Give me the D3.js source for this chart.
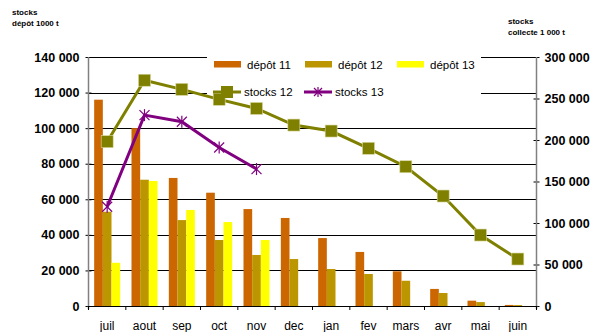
<!DOCTYPE html>
<html>
<head>
<meta charset="utf-8">
<script src="https://cdn.jsdelivr.net/npm/d3@7/dist/d3.min.js"></script>
<style>
  html, body { margin: 0; padding: 0; background: #fff; }
  svg { display: block; font-family: "Liberation Sans", Arial, sans-serif; }
</style>
</head>
<body>
<svg id="chart" width="596" height="332"></svg>
<script>
// Monthly categories (campaign July to June)
const months = ["juil", "aout", "sep", "oct", "nov", "dec", "jan", "fev", "mars", "avr", "mai", "juin"];

// Deposit stocks, 1000 t (left axis)
const depot11 = [116000, 100000, 72000, 63700, 54500, 49500, 38200, 30400, 19500, 9600, 3000, 600];
const depot12 = [53000, 71000, 48300, 37100, 28700, 26400, 20800, 18000, 14200, 7300, 2200, 500];
const depot13 = [24300, 70300, 54000, 47200, 37100, null, null, null, null, null, null, null];

// Collection stocks, 1 000 t (right axis)
const stocks12 = [198000, 272000, 261000, 249000, 238000, 218000, 210800, 190000, 167800, 132500, 85500, 56600];
const stocks13 = [119600, 230000, 222000, 191000, 165000, null, null, null, null, null, null, null];

const leftTicks = [0, 20000, 40000, 60000, 80000, 100000, 120000, 140000];
const rightTicks = [0, 50000, 100000, 150000, 200000, 250000, 300000];

const colors = {
  d11: "#CC6600",
  d12: "#BB9600",
  d13: "#FFFF00",
  s12: "#808000",
  s13: "#800080"
};

const svg = d3.select("#chart");
const plotL = 88.5, plotR = 536.5, plotT = 57, plotB = 306;

const x = d3.scaleBand().domain(months).range([plotL, plotR]).padding(0);
const yL = d3.scaleLinear().domain([0, 140000]).range([plotB, plotT]);
const yR = d3.scaleLinear().domain([0, 300000]).range([plotB, plotT]);
const fmt = v => d3.format(",")(v).replace(/,/g, " ");

// Horizontal gridlines at the left-axis ticks
svg.append("g").selectAll("line").data(leftTicks.filter(d => d > 0)).join("line")
  .attr("x1", plotL).attr("x2", plotR)
  .attr("y1", d => Math.round(yL(d)) + 0.5).attr("y2", d => Math.round(yL(d)) + 0.5)
  .attr("stroke", "#000").attr("stroke-width", 1);

// Legend background covers the gridlines
const legendBox = { x: 207, y: 50, w: 274, h: 52 };
svg.append("rect").attr("x", legendBox.x).attr("y", legendBox.y)
  .attr("width", legendBox.w).attr("height", legendBox.h).attr("fill", "#fff");

// Grouped bars
const barSeries = [
  { key: "d11", values: depot11 },
  { key: "d12", values: depot12 },
  { key: "d13", values: depot13 }
];
const groupW = 26;
const xs = d3.scaleBand().domain(barSeries.map(s => s.key)).range([0, groupW]).padding(0);
const bars = svg.append("g");
barSeries.forEach(s => {
  bars.append("g").selectAll("rect")
    .data(months.map((m, i) => ({ m, v: s.values[i] })).filter(d => d.v != null))
    .join("rect")
    .attr("x", d => x(d.m) + (x.bandwidth() - groupW) / 2 + xs(s.key))
    .attr("width", xs.bandwidth())
    .attr("y", d => yL(d.v))
    .attr("height", d => plotB - yL(d.v))
    .attr("fill", colors[s.key]);
});

// Axes
const axL = d3.axisLeft(yL).tickValues(leftTicks).tickSize(0).tickPadding(9).tickFormat(fmt);
const axR = d3.axisRight(yR).tickValues(rightTicks).tickSize(0).tickPadding(8).tickFormat(fmt);
const gL = svg.append("g").attr("transform", `translate(${plotL},0)`).call(axL);
const gR = svg.append("g").attr("transform", `translate(${plotR},0)`).call(axR);
[gL, gR].forEach(g => {
  g.select(".domain").remove();
  g.selectAll("text").attr("font-size", 12.5).attr("font-weight", "bold").attr("fill", "#000")
    .attr("font-family", "'Liberation Sans', Arial, sans-serif");
});
// Cross ticks
gL.selectAll(".tick").append("line").attr("x1", -3).attr("x2", 3).attr("stroke", "#000");
gR.selectAll(".tick").append("line").attr("x1", -3).attr("x2", 3).attr("stroke", "#000");
svg.append("line").attr("x1", plotL).attr("x2", plotL).attr("y1", plotT).attr("y2", plotB + 3)
  .attr("stroke", "#808080").attr("stroke-width", 1.5);
svg.append("line").attr("x1", plotR).attr("x2", plotR).attr("y1", plotT).attr("y2", plotB + 3)
  .attr("stroke", "#808080").attr("stroke-width", 1.5);

// Category axis
const axB = d3.axisBottom(x).tickSize(0).tickPadding(15);
const gB = svg.append("g").attr("transform", `translate(0,${plotB})`).call(axB);
gB.select(".domain").attr("stroke", "#000");
gB.selectAll("text").attr("font-size", 12).attr("fill", "#000")
  .attr("font-family", "'Liberation Sans', Arial, sans-serif");
svg.append("g").selectAll("line").data(months.concat(["__end"])).join("line")
  .attr("x1", (d, i) => plotL + i * x.bandwidth()).attr("x2", (d, i) => plotL + i * x.bandwidth())
  .attr("y1", plotB).attr("y2", plotB + 4).attr("stroke", "#000");

// Lines on the right axis
const cx = m => x(m) + x.bandwidth() / 2;
const line = d3.line().defined(d => d.v != null).x(d => cx(d.m)).y(d => yR(d.v));
const s12 = months.map((m, i) => ({ m, v: stocks12[i] }));
const s13 = months.map((m, i) => ({ m, v: stocks13[i] })).filter(d => d.v != null);

svg.append("path").datum(s12).attr("d", line).attr("fill", "none")
  .attr("stroke", colors.s12).attr("stroke-width", 3);
svg.append("g").selectAll("rect").data(s12).join("rect")
  .attr("x", d => cx(d.m) - 6).attr("y", d => yR(d.v) - 6)
  .attr("width", 12).attr("height", 12).attr("fill", colors.s12)
  .attr("stroke", "#d8d8a0").attr("stroke-width", 0.6);

svg.append("path").datum(s13).attr("d", line).attr("fill", "none")
  .attr("stroke", colors.s13).attr("stroke-width", 3);
const star = (g, r) => {
  g.append("line").attr("x1", -r).attr("y1", -r).attr("x2", r).attr("y2", r);
  g.append("line").attr("x1", -r).attr("y1", r).attr("x2", r).attr("y2", -r);
  g.append("line").attr("x1", 0).attr("y1", -r - 1).attr("x2", 0).attr("y2", r + 1);
};
svg.append("g").selectAll("g").data(s13).join("g")
  .attr("transform", d => `translate(${cx(d.m)},${yR(d.v)})`)
  .attr("stroke", colors.s13).attr("stroke-width", 1.2)
  .each(function () { star(d3.select(this), 5); });

// Legend
const lg = svg.append("g").attr("font-size", 11.5).attr("fill", "#000");
const legendBars = [
  { label: "dépôt 11", c: colors.d11, x: 214 },
  { label: "dépôt 12", c: colors.d12, x: 305 },
  { label: "dépôt 13", c: colors.d13, x: 397 }
];
legendBars.forEach(l => {
  lg.append("rect").attr("x", l.x).attr("y", 61).attr("width", 27).attr("height", 6.5).attr("fill", l.c);
  lg.append("text").attr("x", l.x + 33).attr("y", 69).text(l.label);
});
// stocks 12 sample
lg.append("line").attr("x1", 213).attr("x2", 241).attr("y1", 92).attr("y2", 92)
  .attr("stroke", colors.s12).attr("stroke-width", 3);
lg.append("rect").attr("x", 221).attr("y", 86).attr("width", 12).attr("height", 12).attr("fill", colors.s12);
lg.append("text").attr("x", 244).attr("y", 96).text("stocks 12");
// stocks 13 sample
lg.append("line").attr("x1", 304).attr("x2", 332).attr("y1", 92).attr("y2", 92)
  .attr("stroke", colors.s13).attr("stroke-width", 3);
const ls = lg.append("g").attr("transform", "translate(318,92)").attr("stroke", colors.s13).attr("stroke-width", 1.2);
star(ls, 4);
lg.append("text").attr("x", 335).attr("y", 96).text("stocks 13");

// Axis titles
const titles = svg.append("g").attr("font-size", 8).attr("font-weight", "bold").attr("fill", "#000");
titles.append("text").attr("x", 12).attr("y", 15).text("stocks");
titles.append("text").attr("x", 12).attr("y", 26).text("dépôt 1000 t");
titles.append("text").attr("x", 508).attr("y", 24).text("stocks");
titles.append("text").attr("x", 508).attr("y", 35).text("collecte 1 000 t");
</script>
</body>
</html>
